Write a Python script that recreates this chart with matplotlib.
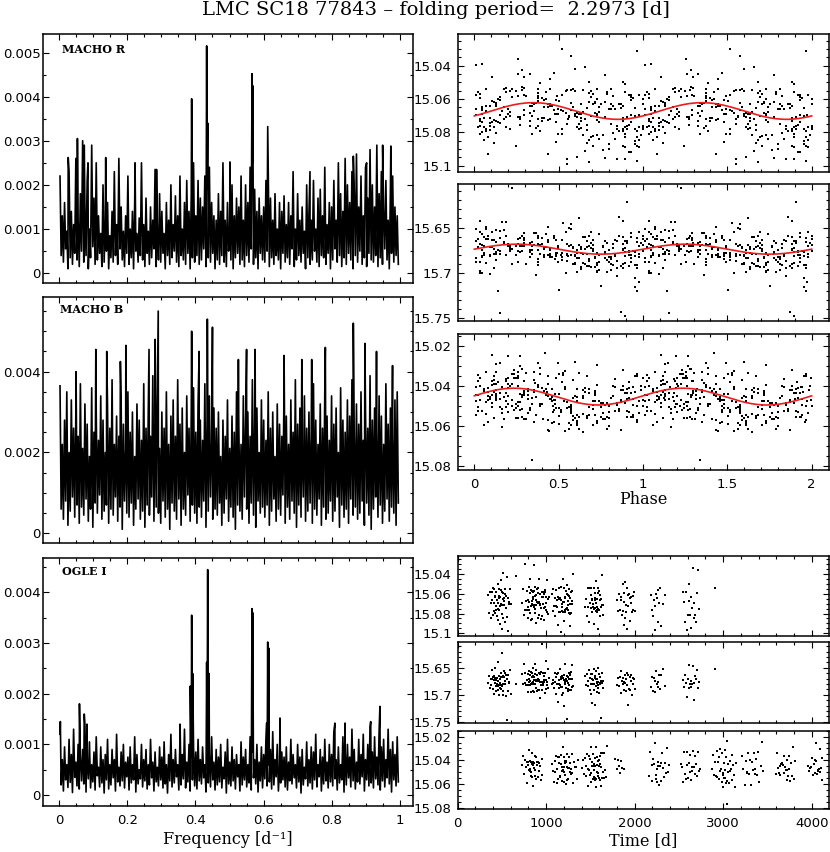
import numpy as np
import matplotlib
matplotlib.use("Agg")
import matplotlib.pyplot as plt
from matplotlib.ticker import MultipleLocator, FuncFormatter

PERIOD = 2.2973
TITLE = "LMC SC18 77843 \u2013 folding period=  2.2973 [d]"
PANEL_NAMES = ["MACHO R", "MACHO B", "OGLE I"]

# ---------------- periodograms (power in units of 1e-5) ----------------
# local maxima (hi) and minima (lo) of the noise, alternating along frequency
pgR_hi = [220, 130, 160, 95, 230, 140, 110, 260, 120, 180,
          300, 150, 210, 100, 290, 170, 250, 130, 90, 200,
          120, 160, 85, 140, 230, 110, 260, 150, 95, 130,
          220, 100, 140, 160, 90, 125, 250, 110, 170, 95,
          150, 120, 235, 100, 180, 140, 90, 160, 120, 200,
          110, 175, 130, 220, 100, 160, 210, 140, 180, 250,
          130, 210, 170, 150, 220, 190, 240, 160, 130, 120,
          180, 140, 250, 120, 160, 100, 200, 130, 170, 150,
          220, 120, 200, 160, 240, 250, 190, 140, 170, 130,
          150, 210, 230, 170, 120, 180, 100, 160, 140, 175,
          110, 160, 130, 230, 100, 180, 120, 150, 95, 200,
          140, 120, 210, 100, 170, 190, 130, 240, 110, 160,
          150, 210, 120, 250, 180, 140, 260, 200, 160, 230,
          190, 270, 150, 220, 130, 240, 170, 280, 200, 150,
          290, 180, 230, 140, 210, 120, 190, 220, 150, 130]
pgR_lo = [40, 25, 55, 10, 35, 20, 45, 30, 15, 50,
          25, 40, 10, 35, 60, 20, 30, 45, 15, 25,
          50, 10, 35, 25, 40, 20, 55, 30, 15, 45,
          20, 35, 10, 50, 25, 40, 30, 15, 45, 20,
          35, 55, 15, 30, 25, 45, 10, 40, 20, 35,
          50, 25, 15, 40, 30, 20, 45, 10, 35, 25,
          40, 20, 30, 55, 15, 35, 25, 45, 10, 30,
          20, 40, 25, 15, 50, 30, 10, 35, 45, 20,
          30, 15, 40, 25, 55, 20, 35, 10, 45, 30,
          25, 50, 15, 35, 20, 40, 30, 10, 45, 25,
          35, 20, 55, 15, 30, 40, 25, 45, 10, 35,
          20, 30, 50, 25, 15, 40, 35, 20, 45, 10,
          30, 55, 25, 40, 15, 35, 20, 45, 30, 10,
          40, 25, 50, 20, 35, 15, 45, 30, 25, 40,
          15, 35, 20, 55, 30, 10, 45, 25, 40, 20]
pgR_peak_f = [0.027, 0.054, 0.074, 0.085, 0.137, 0.223, 0.286, 0.389, 0.433,
              0.436, 0.501, 0.566, 0.568, 0.612, 0.736, 0.863, 0.902, 0.949, 0.973]
pgR_peak_p = [262, 305, 290, 250, 262, 250, 235, 395, 515,
              340, 252, 452, 425, 332, 230, 265, 250, 290, 288]

pgB_hi = [365, 220, 280, 350, 200, 330, 260, 300, 240, 370,
          210, 320, 270, 190, 360, 250, 300, 230, 340, 280,
          200, 310, 260, 380, 220, 290, 240, 330, 270, 210,
          350, 250, 300, 190, 320, 280, 230, 370, 260, 310,
          240, 390, 280, 330, 210, 300, 260, 350, 220, 290,
          330, 240, 380, 270, 310, 200, 340, 260, 300, 360,
          250, 320, 280, 230, 370, 290, 340, 220, 310, 260,
          300, 190, 280, 240, 330, 210, 290, 250, 350, 270,
          220, 340, 260, 300, 240, 380, 270, 310, 200, 330,
          280, 230, 350, 260, 300, 190, 320, 270, 240, 360,
          290, 220, 330, 250, 380, 270, 310, 210, 340, 260,
          300, 240, 370, 280, 220, 320, 260, 350, 290, 230,
          340, 270, 310, 200, 360, 280, 250, 330, 290, 380,
          240, 320, 270, 350, 230, 300, 260, 390, 280, 310,
          250, 340, 290, 220, 370, 270, 310, 240, 330, 350]
pgB_lo = [60, 35, 80, 20, 55, 90, 40, 70, 25, 65,
          45, 85, 30, 60, 15, 75, 50, 95, 35, 55,
          70, 25, 60, 45, 90, 30, 65, 10, 80, 50,
          40, 75, 20, 60, 85, 35, 55, 15, 70, 45,
          90, 30, 65, 50, 25, 80, 40, 60, 10, 75,
          55, 35, 85, 20, 60, 45, 95, 30, 70, 50,
          25, 65, 40, 80, 15, 55, 90, 35, 60, 45,
          75, 20, 50, 85, 30, 65, 40, 10, 70, 55,
          35, 90, 60, 25, 75, 45, 15, 80, 50, 65,
          40, 70, 20, 55, 85, 30, 60, 45, 95, 25,
          65, 35, 80, 50, 15, 70, 40, 90, 30, 55,
          75, 25, 60, 45, 85, 20, 65, 35, 50, 80,
          30, 55, 90, 15, 70, 40, 60, 25, 85, 45,
          65, 35, 50, 80, 20, 75, 45, 10, 60, 90,
          40, 70, 25, 55, 85, 30, 65, 50, 20, 75]
pgB_peak_f = [0.05, 0.108, 0.14, 0.18, 0.196, 0.264, 0.282, 0.291, 0.389, 0.411, 0.435, 0.45,
              0.526, 0.55, 0.575, 0.66, 0.712, 0.741, 0.781, 0.863, 0.897, 0.931, 0.978]
pgB_peak_p = [400, 455, 450, 425, 465, 455, 480, 550, 500, 450, 530, 510,
              430, 455, 455, 440, 430, 430, 460, 520, 470, 450, 415]

pgO_hi = [120, 70, 95, 60, 110, 80, 130, 65, 100, 75,
          90, 140, 70, 105, 60, 85, 115, 55, 95, 70,
          80, 110, 60, 90, 70, 120, 55, 85, 100, 65,
          75, 95, 60, 115, 80, 50, 100, 70, 90, 60,
          110, 65, 85, 55, 95, 75, 105, 60, 80, 120,
          70, 90, 60, 110, 80, 130, 65, 100, 75, 95,
          85, 110, 70, 95, 60, 105, 80, 115, 65, 90,
          75, 100, 55, 85, 110, 65, 95, 70, 80, 60,
          105, 75, 90, 60, 115, 85, 70, 100, 65, 95,
          80, 110, 60, 90, 125, 70, 100, 55, 85, 75,
          95, 65, 110, 80, 60, 100, 75, 90, 55, 105,
          70, 95, 85, 120, 60, 90, 75, 110, 65, 100,
          80, 125, 70, 95, 60, 115, 85, 100, 75, 130,
          90, 65, 110, 80, 120, 70, 100, 135, 85, 115,
          75, 125, 95, 110, 70, 130, 90, 105, 80, 115]
pgO_lo = [20, 8, 30, 15, 25, 5, 35, 18, 12, 28,
          22, 6, 32, 14, 26, 10, 38, 16, 24, 4,
          30, 12, 20, 34, 8, 26, 18, 28, 14, 36,
          10, 24, 30, 6, 22, 32, 16, 28, 12, 20,
          34, 8, 26, 18, 30, 14, 22, 4, 28, 16,
          24, 36, 10, 20, 32, 14, 26, 8, 30, 18,
          12, 28, 22, 34, 6, 24, 16, 30, 10, 20,
          26, 14, 32, 4, 22, 18, 28, 12, 36, 8,
          20, 30, 16, 24, 10, 34, 22, 6, 28, 14,
          32, 18, 26, 12, 20, 36, 8, 24, 30, 16,
          10, 28, 22, 34, 14, 26, 4, 20, 32, 18,
          24, 12, 30, 16, 36, 8, 22, 28, 14, 26,
          18, 32, 10, 24, 30, 6, 20, 34, 16, 28,
          12, 26, 22, 36, 8, 30, 18, 24, 14, 32,
          20, 10, 28, 16, 34, 22, 6, 30, 18, 26]
pgO_peak_f = [0.004, 0.06, 0.074, 0.082, 0.355, 0.385, 0.389, 0.392, 0.433, 0.436, 0.44,
              0.566, 0.568, 0.609, 0.612, 0.615, 0.648, 0.809, 0.839, 0.914, 0.941]
pgO_peak_p = [145, 180, 160, 140, 140, 215, 355, 240, 262, 445, 240,
              368, 360, 142, 302, 290, 152, 142, 142, 145, 175]

FREQ_MIN, FREQ_MAX = 0.003, 0.995

# ---------------- light curves ----------------
# MACHO epochs [d] (R and B observed simultaneously)
t_macho = [348, 356, 363, 371, 379, 384, 391, 397, 402, 406, 411, 414, 419, 423, 426, 431, 434, 438, 443, 445,
           450, 454, 457, 459, 463, 466, 468, 472, 475, 477, 481, 484, 486, 490, 493, 496, 498, 502, 505, 507,
           511, 514, 517, 520, 524, 527, 531, 535, 538, 543, 547, 552, 558, 563, 569, 576, 584, 592, 601, 663,
           724, 738, 749, 757, 765, 772, 779, 785, 790, 795, 799, 803, 807, 811, 814, 818, 821, 825, 828, 831,
           834, 837, 840, 843, 846, 849, 852, 855, 858, 861, 864, 866, 869, 872, 875, 878, 881, 884, 887, 890,
           893, 896, 899, 902, 906, 909, 913, 916, 920, 924, 928, 931, 935, 939, 943, 947, 951, 955, 959, 963,
           967, 971, 975, 979, 983, 987, 991, 995, 999, 1003, 1008, 1013, 1018, 1024, 1030,
           1064, 1072, 1081, 1089, 1096, 1103, 1110, 1116, 1122, 1127, 1132, 1137, 1141, 1146, 1150, 1154,
           1158, 1162, 1166, 1170, 1174, 1178, 1182, 1186, 1190, 1194, 1198, 1202, 1206, 1210, 1214, 1218,
           1222, 1226, 1230, 1234, 1238, 1242, 1246, 1250, 1254, 1258, 1262, 1266, 1270, 1274, 1278, 1282,
           1286, 1290, 1294, 1298, 1215, 1243, 1267,
           1443, 1452, 1461, 1469, 1477, 1484, 1490, 1496, 1501, 1506, 1511, 1515, 1519, 1523, 1527, 1531,
           1535, 1539, 1543, 1547, 1551, 1555, 1559, 1563, 1567, 1571, 1575, 1579, 1583, 1587, 1591, 1595,
           1599, 1603, 1607, 1612, 1617, 1622, 1628, 1634, 1640, 1646, 1553, 1569, 1585,
           1803, 1814, 1825, 1834, 1842, 1850, 1857, 1864, 1870, 1876, 1882, 1888, 1894, 1900, 1906, 1912,
           1918, 1924, 1930, 1936, 1942, 1948, 1955, 1962, 1969, 1977, 1985, 1994, 2003, 1879,
           2184, 2196, 2207, 2217, 2226, 2234, 2242, 2250, 2258, 2266, 2275, 2285, 2296, 2318, 2338,
           2545, 2558, 2570, 2581, 2591, 2600, 2609, 2617, 2625, 2633, 2641, 2649, 2657, 2665, 2674, 2683,
           2693, 2704, 2716, 2729, 2912]
# residuals from the fitted sinusoid [mmag]
res_R = [-3, 8, -12, 5, 14, -7, 2, -18, 11, -1, 6, -9, 17, -4, 0, 9, -14, 3, -6, 12,
         -22, 7, -2, 15, -10, 4, -8, 1, 19, -5, 10, -13, 6, -16, 3, -1, 24, -7, 8, -11,
         2, 13, -30, 5, -3, 9, -6, 16, -9, 0, 7, -20, 11, -4, 28, -2, 6, -15, 3, -25,
         4, -8, 12, -35, 6, -2, 9, -13, 1, 16, -6, 3, -10, 7, -17, 11, -3, 20, -7, 2,
         -12, 8, -1, 14, -5, 5, -9, 0, 10, -15, 4, -40, 13, -4, 7, -11, 2, 18, -6, 9,
         -2, -14, 6, 1, -8, 15, -3, 11, -19, 4, -1, 8, -10, 3, 22, -5, 12, -7, 0, 6,
         -13, 17, -2, 9, -16, 5, -4, 10, -9, 2, -26, 7, 14, -6, 1,
         -5, 9, -11, 3, 15, -2, 7, -16, 11, 0, -8, 20, -4, 6, -13, 2, 10, -6, 33, -9,
         4, -1, 13, -18, 8, -3, 5, -10, 17, -7, 1, 12, -14, 6, -2, 9, -21, 3, 14, -5,
         7, -12, 0, 25, -8, 4, -4, 11, -15, 2, 8, -30, 6, -1, 16,
         7, -4, 12, -9, 2, 18, -13, 5, -1, 9, -17, 3, 14, -6, 0, 10, -11, 4, 22, -3,
         8, -8, 1, 15, -20, 6, -2, 11, -14, 3, 30, -5, 7, -10, 2, 13, -7, 5, -28, 9,
         -1, 17, -4, 6, -12,
         -6, 10, -2, 14, -9, 4, 19, -12, 7, 1, -5, 12, -15, 3, 9, -8, 24, -3, 6, -11,
         2, 16, -7, 0, 11, -4, 8, -13, 5, 20,
         -8, 4, 13, -3, 26, 9, -11, 2, 17, -6, 7, -14, 30, 0, -9,
         -14, 5, 18, -6, 24, 10, -20, 2, 13, -3, 27, 7, -32, 16, -1, 9, 25, -10, -27, 4,
         -12]
res_B = [5, -9, 14, -3, 8, -16, 2, 11, -7, 20, -12, 4, -1, 9, -22, 6, 16, -5, 1, -10,
         13, -38, 7, -4, 25, -14, 3, 10, -8, 0, 18, -19, 6, -2, 12, -55, 4, 8, -11, 15,
         -6, 1, 28, -13, 9, -3, 5, -17, 11, 33, -7, 2, 70, -9, 14, -1, 7, -24, 22, 3,
         -8, 12, -30, 4, -15, 9, 1, -6, 17, -11, 3, -20, 7, -2, 13, -9, 5, 24, -14, 0,
         -5, 10, -18, 2, 8, -26, 15, -3, 6, -12, 1, 19, -7, 4, -35, 11, -1, 9, -16, 3,
         14, -10, 6, -4, 21, -8, 0, 12, -13, 5, 30, -6, 2, -22, 8, -62, 16, -3, 10, -9,
         4, -14, 1, 7, -5, 18, -11, 3, -40, 13, -2, 6, -17, 9, 0,
         10, -6, 3, 15, -12, 7, -1, 20, -9, 4, 35, -16, 1, 9, -4, 13, -20, 6, -8, 2,
         27, -14, 11, 0, -5, 17, -10, 5, 45, -3, 8, -25, 12, -7, 3, 75, -12, 16, -2, 9,
         -19, 4, 1, -9, 13, -6, 22, -15, 7, -30, 2, 10, -4, 18, -11,
         -4, 10, -13, 3, 7, -20, 14, 0, -8, 5, 19, -11, 2, 40, -6, 9, -16, 4, 12, -2,
         50, -9, 6, -14, 1, 16, -5, 8, -22, 3, 11, -7, 25, -1, 6, -12, 65, 2, -18, 9,
         -3, 14, -9, 4, 0,
         3, -8, 12, -2, 18, -12, 5, 9, -5, 1, 22, -15, 7, -1, 14, -9, 4, 45, -6, 10,
         -3, 16, -11, 2, 30, -7, 8, -4, 12, 0,
         6, -10, 14, -3, 20, 2, -20, 9, 0, 15, -5, 11, -8, -22, 4,
         -6, 12, -15, 4, 25, -9, 8, -25, 1, 16, -3, 10, -30, 6, 35, -12, 2, -18, 20, -1,
         -25]
# OGLE epochs [d]
t_ogle = [724, 738, 750, 761, 770, 778, 785, 791, 797, 802, 807, 812, 816, 820, 824, 828, 832, 836, 840, 844,
          848, 852, 856, 860, 864, 868, 872, 877, 882, 887, 892, 897, 903, 909, 915, 922, 930, 938, 947, 957,
          1063, 1075, 1086, 1096, 1105, 1113, 1120, 1127, 1133, 1139, 1145, 1150, 1155, 1160, 1165, 1170,
          1175, 1180, 1184, 1188, 1192, 1196, 1200, 1204, 1208, 1212, 1216, 1220, 1224, 1228, 1232, 1236,
          1240, 1245, 1250, 1255, 1260, 1265, 1271, 1277, 1283, 1290, 1297, 1305, 1313, 1322, 1332, 1343,
          1355, 1206,
          1404, 1416, 1427, 1437, 1446, 1454, 1461, 1468, 1474, 1480, 1486, 1491, 1496, 1501, 1506, 1511,
          1516, 1521, 1526, 1531, 1536, 1541, 1546, 1551, 1556, 1561, 1566, 1571, 1576, 1581, 1586, 1591,
          1596, 1601, 1606, 1611, 1616, 1621, 1626, 1631, 1637, 1643, 1650, 1657, 1665, 1674, 1683, 1528,
          1553, 1578, 1603, 1618, 1593, 1568, 1543,
          1783, 1797, 1810, 1822, 1834, 1847, 1861, 1876,
          2164, 2178, 2190, 2201, 2211, 2220, 2229, 2237, 2245, 2253, 2261, 2269, 2277, 2285, 2293, 2301,
          2310, 2319, 2328, 2338, 2349, 2361, 2374, 2388, 2257,
          2524, 2537, 2549, 2560, 2570, 2579, 2588, 2596, 2604, 2612, 2620, 2628, 2636, 2644, 2652, 2660,
          2668, 2677, 2686, 2695, 2705, 2716, 2728, 2740, 2640,
          2874, 2886, 2897, 2907, 2916, 2925, 2933, 2941, 2948, 2955, 2962, 2969, 2975, 2981, 2987, 2993,
          2999, 3005, 3011, 3017, 3023, 3029, 3035, 3041, 3047, 3053, 3059, 3066, 3073, 3080, 3088, 3096,
          3105, 3114, 3124, 3135, 3147, 3002, 3020, 3038,
          3214, 3228, 3241, 3253, 3264, 3274, 3284, 3294, 3304, 3314, 3324, 3334, 3344, 3354, 3364, 3375,
          3386, 3398, 3410, 3423, 3437, 3451,
          3592, 3605, 3617, 3628, 3638, 3647, 3656, 3665, 3674, 3683, 3692, 3700, 3708, 3716, 3724, 3732,
          3740, 3748, 3756, 3765, 3774, 3784, 3795, 3807, 3720,
          3953, 3968, 3981, 3993, 4004, 4014, 4023, 4032, 4041, 4050, 4059, 4068, 4076, 4084, 4092, 4099,
          4106, 4113, 4120, 4046]
res_I = [2, -5, 7, -1, 4, -8, 10, 0, -3, 6, -10, 3, 8, -6, 1, -2, 12, -4, 5, -9,
         2, 14, -7, 0, 4, -12, 6, -1, 9, -5, 3, -3, 11, -8, 1, 7, -4, 15, -2, 5,
         -6, 3, 9, -2, 5, -9, 1, 12, -4, 7, -1, -11, 4, 8, -7, 2, 13, -3, 6, -13,
         0, 10, -5, 3, -8, 5, 1, -2, 11, -6, 4, -10, 7, 0, 14, -4, 2, -7, 9, -1,
         6, -12, 3, 16, -5, 1, -3, 8, -9, 4,
         5, -3, 10, -8, 1, 6, -11, 3, 13, -5, 0, 8, -2, -14, 4, 9, -6, 2, 15, -9,
         6, -1, 11, -4, 3, -17, 7, 1, -7, 12, -2, 4, -10, 8, 0, -5, 18, -3, 6, -12,
         2, 9, -7, 14, -1, 5, -20, 3, 10, -4, 7, -8, 1, 16, -6,
         -3, 6, -8, 2, 9, -5, 4, -1,
         8, -10, 3, 15, -5, 1, -16, 6, 11, -2, 4, -8, 19, -4, 0, 9, -13, 2, 12, -7,
         5, -20, 7, -1, 14,
         -6, 4, 11, -9, 2, 7, -14, 0, 9, -3, 5, -11, 13, -1, 6, -16, 3, 10, -5, 1,
         8, -8, 4, -2, 15,
         3, -6, 9, -2, 12, -9, 5, 0, 15, -4, 7, -12, 2, 10, -7, 4, 18, -1, 6, -10,
         1, 13, -5, 8, 35, -3, 3, 11, -8, 0, 6, -14, 9, -2, 4, 14, -6, 1, 7, -20,
         -8, 5, 12, -4, 1, 9, -12, 3, -1, 14, -6, 7, -15, 2, 10, -3, 5, -9, 16, 0,
         -18, 8,
         4, -7, 2, 10, -3, 6, -1, 0, 3, -5, 8, -2, 5, 1, -4, 7, -9, 2, 12, -6,
         4, -13, 9, -1, 15,
         -5, 8, -1, 4, -9, 11, 2, -3, 6, -6, 3, 0, 7, -2, 9, -11, 5, -4, 13, -16]

# fitted sinusoids: mean magnitude, semi-amplitude, phase of maximum light
fit_R = (15.0672, 0.0050, 0.35)
fit_B = (15.6738, 0.0055, 0.25)
fit_I = (15.0453, 0.0042, 0.235)

# ---------------- figure ----------------
plt.rcParams["font.family"] = "DejaVu Sans"
W, H = 830.0, 852.0
fig = plt.figure(figsize=(W / 100, H / 100), dpi=100)


def box(x0, y0, x1, y1):
    return [x0 / W, 1 - y1 / H, (x1 - x0) / W, (y1 - y0) / H]


fmt = FuncFormatter(lambda v, p: f"{round(v, 6) + 0.0:g}")


def style(ax, xmaj, xmin, ymaj, ymin, xlabels, ypad):
    ax.xaxis.set_major_locator(MultipleLocator(xmaj))
    ax.xaxis.set_minor_locator(MultipleLocator(xmin))
    ax.yaxis.set_major_locator(MultipleLocator(ymaj))
    ax.yaxis.set_minor_locator(MultipleLocator(ymin))
    ax.xaxis.set_major_formatter(fmt)
    ax.yaxis.set_major_formatter(fmt)
    ax.tick_params(which="both", direction="in", top=True, right=True,
                   width=0.8, labelsize=9.5, colors="black")
    ax.tick_params(which="major", length=4.5)
    ax.tick_params(which="minor", length=2.3)
    ax.tick_params(axis="x", pad=5.5, labelbottom=xlabels)
    ax.tick_params(axis="y", pad=ypad)
    for s in ax.spines.values():
        s.set_linewidth(1.1)


def periodogram(hi, lo, pf, pp):
    vals = np.empty(2 * len(hi))
    vals[0::2] = hi
    vals[1::2] = lo
    f = np.linspace(FREQ_MIN, FREQ_MAX, len(vals))
    f = np.concatenate([f, pf])
    vals = np.concatenate([vals, pp])
    order = np.argsort(f, kind="stable")
    return f[order], vals[order] * 1e-5


left_boxes = [box(43, 34, 413, 283.3), box(43, 296.7, 413, 543), box(43, 558, 413, 806)]
left_ylims = [(-0.00023, 0.00542), (-0.00024, 0.005856), (-0.000216, 0.00468)]
left_ymaj = [0.001, 0.002, 0.001]
left_label_xy = [(0.0505, 0.9226), (0.046, 0.9338), (0.0514, 0.9315)]
pgs = [(pgR_hi, pgR_lo, pgR_peak_f, pgR_peak_p),
       (pgB_hi, pgB_lo, pgB_peak_f, pgB_peak_p),
       (pgO_hi, pgO_lo, pgO_peak_f, pgO_peak_p)]
for i in range(3):
    ax = fig.add_axes(left_boxes[i])
    f, p = periodogram(*pgs[i])
    ax.plot(f, p, color="black", lw=1.2)
    ax.set_xlim(-0.0469, 1.038)
    ax.set_ylim(*left_ylims[i])
    style(ax, 0.2, 0.05, left_ymaj[i], 0.0005, i == 2, 1.7)
    ax.text(*left_label_xy[i], PANEL_NAMES[i], transform=ax.transAxes,
            ha="left", va="baseline", family="DejaVu Serif", weight="bold", fontsize=8)

sets = [(t_macho, res_R, fit_R), (t_macho, res_B, fit_B), (t_ogle, res_I, fit_I)]
phase_boxes = [box(457.7, 34, 828.5, 172), box(457.7, 184, 828.5, 320.7), box(457.7, 334, 828.5, 470)]
phase_ylims = [(15.1038, 15.021), (15.7526, 15.602), (15.082, 15.014)]
time_boxes = [box(457.7, 555.7, 828.5, 635.7), box(457.7, 641.7, 828.5, 722.7), box(457.7, 730.7, 828.5, 809.3)]
time_ylims = [(15.1024, 15.0215), (15.7519, 15.6015), (15.0814, 15.015)]
ymaj = [0.02, 0.05, 0.02]
ymin = [0.005, 0.01, 0.005]

for i in range(3):
    t, res, (m0, amp, phmax) = sets[i]
    n = min(len(t), len(res))
    t = np.asarray(t[:n], float)
    res = np.asarray(res[:n], float)
    ph = np.mod(t / PERIOD, 1.0)
    mag = m0 - amp * np.cos(2 * np.pi * (ph - phmax)) + res / 1000.0

    ax = fig.add_axes(phase_boxes[i])
    ax.plot(np.concatenate([ph, ph + 1]), np.concatenate([mag, mag]), "s",
            ms=1.8, mew=0, color="black")
    phg = np.linspace(0, 2, 400)
    ax.plot(phg, m0 - amp * np.cos(2 * np.pi * (phg - phmax)), color="#ee1c1c", lw=1.2, zorder=3)
    ax.set_xlim(-0.0984, 2.0996)
    ax.set_ylim(*phase_ylims[i])
    style(ax, 0.5, 0.1, ymaj[i], ymin[i], i == 2, 4.3)

    ax = fig.add_axes(time_boxes[i])
    ax.plot(t, mag, "s", ms=1.8, mew=0, color="black")
    ax.set_xlim(0, 4190)
    ax.set_ylim(*time_ylims[i])
    style(ax, 1000, 200, ymaj[i], ymin[i], i == 2, 4.3)

serif = dict(family="DejaVu Serif", fontsize=11.5, ha="center", va="baseline")
fig.text(435.5 / W, 1 - 15 / H, TITLE, family="DejaVu Serif", fontsize=14,
         ha="center", va="baseline")
fig.text(228 / W, 1 - 844 / H, "Frequency [d\u207b\u00b9]", **serif)
fig.text(643 / W, 1 - 845 / H, "Time [d]", **serif)
fig.text(643 / W, 1 - 504 / H, "Phase", **serif)

fig.savefig("out.png", dpi=100)
